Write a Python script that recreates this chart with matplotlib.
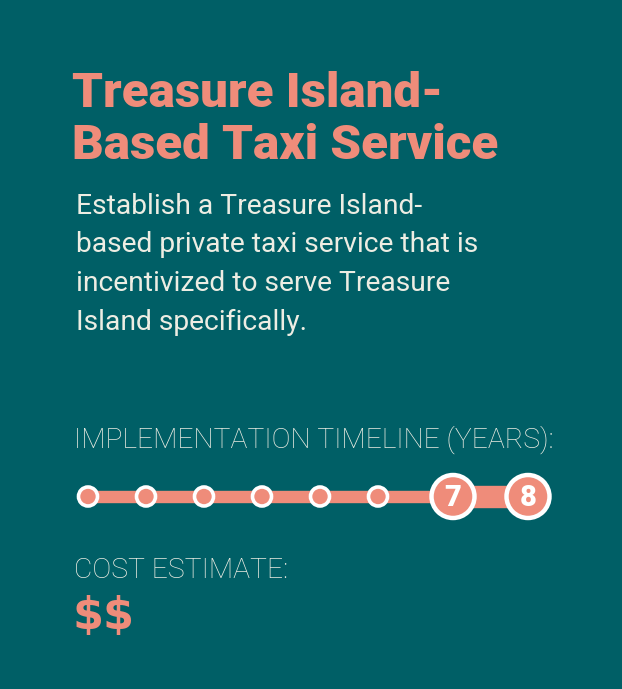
import matplotlib.pyplot as plt
from matplotlib.patches import Circle, Rectangle

BG = "#005F66"
SALMON = "#EF8C7A"
CREAM = "#EDEDE3"

title_lines = ["Treasure Island-", "Based Taxi Service"]
body_lines = [
    "Establish a Treasure Island-",
    "based private taxi service that is",
    "incentivized to serve Treasure",
    "Island specifically.",
]
timeline_label = "IMPLEMENTATION TIMELINE (YEARS):"
years = [1, 2, 3, 4, 5, 6, 7, 8]
active_years = [7, 8]
cost_label = "COST ESTIMATE:"
cost_value = "$$"

fig = plt.figure(figsize=(6.22, 6.89), dpi=100)
fig.patch.set_facecolor(BG)
ax = fig.add_axes([0, 0, 1, 1])
ax.set_xlim(0, 622)
ax.set_ylim(689, 0)
ax.axis("off")
ax.set_facecolor(BG)

# title
for i, line in enumerate(title_lines):
    ax.text(72, 107 + i * 52, line, color=SALMON, fontsize=35.5,
            fontweight="heavy", family="Roboto", va="baseline")

# description
for i, line in enumerate(body_lines):
    ax.text(76, 214 + i * 38.5, line, color=CREAM, fontsize=20.3,
            family="Roboto", va="baseline")

ax.text(74, 448, timeline_label, color=CREAM, fontsize=20.3,
        fontweight="light", family="Roboto", va="baseline")

# timeline positions: small steps, bigger gap around active years
xs = []
x = 88
for y in years:
    if xs:
        big = y in active_years
        x += 75 if big else 58
    xs.append(x)
cy = 496.5

first_active = xs[years.index(active_years[0])]
ax.add_patch(Rectangle((xs[0], cy - 5.5), first_active - xs[0], 11,
                       color=SALMON, zorder=1))
ax.add_patch(Rectangle((first_active, cy - 10.5), xs[-1] - first_active, 21,
                       color=SALMON, zorder=1))

for y, xp in zip(years, xs):
    if y in active_years:
        ax.add_patch(Circle((xp, cy), 21.5, facecolor=SALMON,
                            edgecolor="white", linewidth=3.2, zorder=3))
        ax.text(xp, cy + 1.5, str(y), color="white", fontsize=21,
                fontweight="heavy", family="Roboto", ha="center",
                va="center", zorder=4)
    else:
        ax.add_patch(Circle((xp, cy), 9.5, facecolor=SALMON,
                            edgecolor="white", linewidth=2.6, zorder=3))

ax.text(73, 629, cost_value, color=SALMON, fontsize=32,
        fontweight="bold", family="DejaVu Sans", va="baseline",
        parse_math=False)
ax.text(74, 578, cost_label, color=CREAM, fontsize=20.3,
        fontweight="light", family="Roboto", va="baseline")

fig.savefig("out.png", dpi=100, facecolor=BG)
